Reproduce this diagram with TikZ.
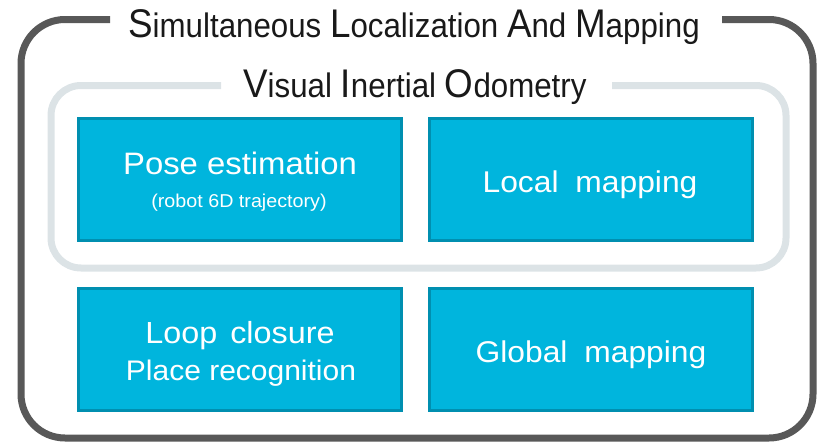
\documentclass[tikz,border=0pt]{standalone}
\usepackage{fontspec}
\setmainfont{Liberation Sans}
\newfontfamily\titlefont[FakeStretch=0.92]{Liberation Sans}
\newfontfamily\boxfont[FakeStretch=1.06]{Liberation Sans}
\definecolor{boxfill}{RGB}{0,181,221}
\definecolor{boxline}{RGB}{0,143,176}
\definecolor{outergray}{RGB}{88,88,88}
\definecolor{innergray}{RGB}{220,227,230}
\definecolor{titleink}{RGB}{25,25,25}
\newcommand\tcap[1]{{\fontsize{40}{40}\selectfont #1}}
\newcommand\tlow{\fontsize{34}{34}\selectfont}
\tikzset{
  outerframe/.style={draw=outergray, line width=7pt, rounded corners=44pt},
  innerframe/.style={draw=innergray, line width=7pt, rounded corners=30pt},
  blockbox/.style={draw=boxline, fill=boxfill, line width=3pt, minimum width=323pt, minimum height=122pt, inner sep=0pt},
  titletext/.style={anchor=base west, inner sep=0pt, text=titleink, font=\titlefont\tlow},
  boxtext/.style={anchor=base, inner sep=0pt, text=white, font=\boxfont\fontsize{30}{30}\selectfont},
  smalltext/.style={anchor=base, inner sep=0pt, text=white, font=\boxfont\fontsize{18.6}{18.6}\selectfont}
}
\begin{document}
\begin{tikzpicture}[x=1pt,y=-1pt]
\useasboundingbox (0,0) rectangle (822,447);
% outer frame
\coordinate (o1) at (110,19.5);
\coordinate (o2) at (722,19.5);
\draw[outerframe] (o1) -- (21,19.5) -- (21,438) -- (813,438) -- (813,19.5) -- (o2);
% inner frame
\coordinate (i1) at (221,85.5);
\coordinate (i2) at (612,85.5);
\draw[innerframe] (i1) -- (51,85.5) -- (51,268) -- (786,268) -- (786,85.5) -- (i2);
% titles
\node[titletext] (slam) at (128,37) {\tcap{S}imultaneous \tcap{L}ocalization \tcap{A}nd \tcap{M}apping};
\node[titletext] (vio) at (243,97) {\tcap{V}isual \tcap{I}nertial \tcap{O}dometry};
% boxes
\node[blockbox] (pose) at (240,179.5) {};
\node[blockbox] (local) at (590.5,179.5) {};
\node[blockbox] (loop) at (240,349.5) {};
\node[blockbox] (global) at (590.5,349.5) {};
% texts
\node[boxtext, font=\boxfont\fontsize{31}{31}\selectfont] (posetxt) at (240,174) {Pose estimation};
\node[smalltext] (posesub) at (239,207) {(robot 6D trajectory)};
\node[boxtext] (localtxt) at (590,192) {Local\hspace{8pt} mapping};
\node[boxtext, font=\boxfont\fontsize{30.5}{30.5}\selectfont] (looptxt) at (240,343) {Loop\hspace{4pt} closure};
\node[boxtext, font=\boxfont\fontsize{28.3}{28.3}\selectfont] (placetxt) at (241,380) {Place recognition};
\node[boxtext] (globaltxt) at (591,362) {Global\hspace{8pt} mapping};
\end{tikzpicture}
\end{document}
